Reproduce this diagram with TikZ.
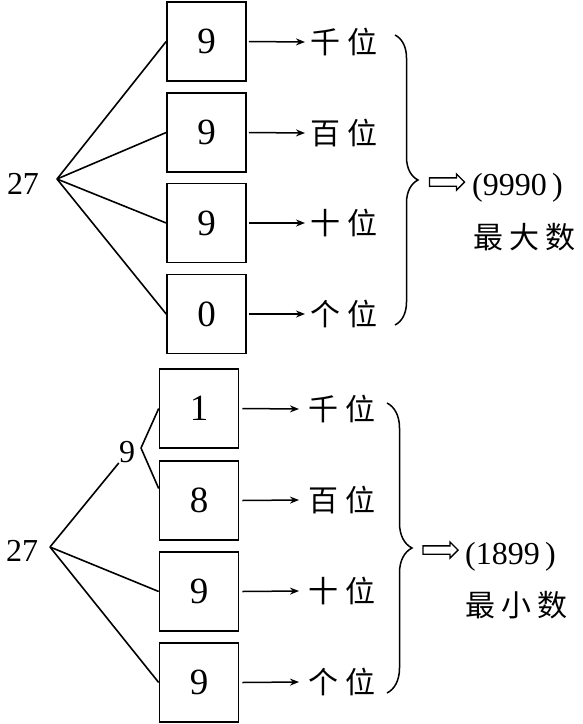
\documentclass[tikz,border=0pt]{standalone}
\usepackage{fontspec}
\setmainfont{Liberation Serif}
\newfontfamily\cjk{Noto Sans CJK SC}
\usetikzlibrary{arrows.meta,decorations.pathreplacing,shapes.arrows}

\begin{document}
\begin{tikzpicture}[x=1pt,y=-1pt,
  digitbox/.style={draw,line width=1.6pt,minimum size=79pt,inner sep=0pt,font=\fontsize{37}{37}\selectfont},
  num/.style={inner sep=0pt,font=\fontsize{32}{32}\selectfont},
  place/.style={anchor=west,inner sep=0pt,font=\cjk\fontsize{30}{30}\selectfont},
  fanline/.style={line width=1.6pt},
  toplace/.style={line width=1.5pt,-{Stealth[length=9pt,width=7pt]}},
  bracket/.style={decorate,decoration={brace,amplitude=#1},line width=1.5pt},
  hollow/.style={draw,single arrow,line width=1.3pt,minimum height=35pt,inner sep=3.5pt,single arrow head extend=4pt}]
  \useasboundingbox (0,0) rectangle (582,724);

  \node[num] (a27) at (23,184) {27};
  \coordinate (afan) at (57,179);
  \node[digitbox] (a1) at (206.5,41.5) {9};
  \node[digitbox] (a2) at (206.5,132.5) {9};
  \node[digitbox] (a3) at (206.5,223) {9};
  \node[digitbox] (a4) at (206.5,314) {0};
  \draw[fanline] (afan)--(a1.west); \draw[fanline] (afan)--(a2.west);
  \draw[fanline] (afan)--(a3.west); \draw[fanline] (afan)--(a4.west);
  \node[place] (ap1) at (310,42) {千\hspace{7pt}位};
  \node[place] (ap2) at (310,133) {百\hspace{7pt}位};
  \node[place] (ap3) at (310,223) {十\hspace{7pt}位};
  \node[place] (ap4) at (310,314) {个\hspace{7pt}位};
  \draw[toplace] ([xshift=2pt]a1.east)--([xshift=-5pt]ap1.west);
  \draw[toplace] ([xshift=2pt]a2.east)--([xshift=-5pt]ap2.west);
  \draw[toplace] ([xshift=2pt]a3.east)--([xshift=-5pt]ap3.west);
  \draw[toplace] ([xshift=2pt]a4.east)--([xshift=-5pt]ap4.west);
  \coordinate (abt) at (395,35); \coordinate (abb) at (395,325);
  \draw[bracket=23pt] (abt)--(abb);
  \node[hollow] (aarr) at (445,182) {};
  \node[num,anchor=west] (ares) at (472,188) {(9990\,)};
  \node[place] (aname) at (473,237) {最\hspace{6pt}大\hspace{6pt}数};

  \node[num] (b27) at (22,551) {27};
  \coordinate (bfan) at (50,547);
  \node[num] (b9) at (127,452) {9};
  \coordinate (b9fan) at (141,448);
  \node[digitbox] (b1) at (199,408.5) {1};
  \node[digitbox] (b2) at (199,500.5) {8};
  \node[digitbox] (b3) at (199,591.5) {9};
  \node[digitbox] (b4) at (199,682.5) {9};
  \draw[fanline] (bfan)--(b9.south west);
  \draw[fanline] (b9fan)--(b1.west); \draw[fanline] (b9fan)--([yshift=12pt]b2.west);
  \draw[fanline] (bfan)--(b3.west); \draw[fanline] (bfan)--(b4.west);
  \node[place] (bp1) at (308,409) {千\hspace{7pt}位};
  \node[place] (bp2) at (308,500) {百\hspace{7pt}位};
  \node[place] (bp3) at (308,591) {十\hspace{7pt}位};
  \node[place] (bp4) at (308,682) {个\hspace{7pt}位};
  \draw[toplace] ([xshift=3pt]b1.east)--([xshift=-9pt]bp1.west);
  \draw[toplace] ([xshift=3pt]b2.east)--([xshift=-9pt]bp2.west);
  \draw[toplace] ([xshift=3pt]b3.east)--([xshift=-9pt]bp3.west);
  \draw[toplace] ([xshift=3pt]b4.east)--([xshift=-9pt]bp4.west);
  \coordinate (bbt) at (387,403); \coordinate (bbb) at (387,693);
  \draw[bracket=25pt] (bbt)--(bbb);
  \node[hollow] (barr) at (438.5,550) {};
  \node[num,anchor=west] (bres) at (465,557) {(1899\,)};
  \node[place] (bname) at (465,605) {最\hspace{6pt}小\hspace{6pt}数};
\end{tikzpicture}
\end{document}
